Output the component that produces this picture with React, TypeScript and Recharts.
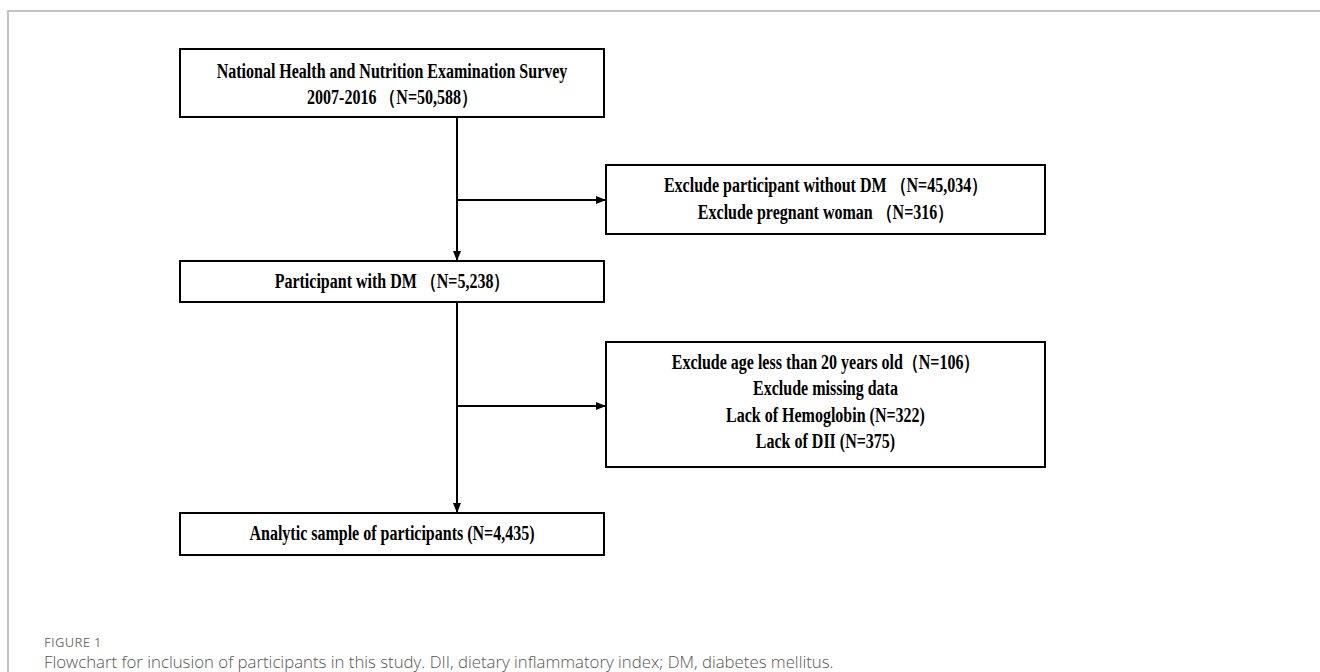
import React from "react";
import { ComposedChart, XAxis, YAxis, ReferenceArea, ReferenceLine, Scatter } from "recharts";

// ---- content ----
const boxTexts: string[][] = [
  ["National Health and Nutrition Examination Survey", "2007-2016 （N=50,588）"],
  ["Exclude participant without DM （N=45,034）", "Exclude pregnant woman （N=316）"],
  ["Participant with DM （N=5,238）"],
  [
    "Exclude age less than 20 years old（N=106）",
    "Exclude missing data",
    "Lack of Hemoglobin (N=322)",
    "Lack of DII (N=375)",
  ],
  ["Analytic sample of participants (N=4,435)"],
];
const figureLabel = "FIGURE 1";
const captionText =
  "Flowchart for inclusion of participants in this study. DII, dietary inflammatory index; DM, diabetes mellitus.";

// ---- layout (pixel coordinates in the axis space) ----
const W = 1320;
const H = 672;
const boxX1 = [180, 606, 180, 606, 180];
const boxX2 = [604, 1045, 604, 1045, 604];
const boxY1 = [49, 165, 261, 342, 513];
const boxY2 = [117, 234, 302, 467, 555];
const textCenterY = [84.5, 199, 281, 402, 533];
const lineGap = 26.5;
const mainX = 457;
const branchY = [200, 406];

type Seg = { x1: number; y1: number; x2: number; y2: number };
const connectors: Seg[] = [
  { x1: mainX, y1: boxY2[0], x2: mainX, y2: boxY1[2] },
  { x1: mainX, y1: boxY2[2], x2: mainX, y2: boxY1[4] },
  { x1: mainX, y1: branchY[0], x2: boxX1[1], y2: branchY[0] },
  { x1: mainX, y1: branchY[1], x2: boxX1[3], y2: branchY[1] },
];

const textPoints = boxTexts.flatMap((lines, i) => {
  const cx = (boxX1[i] + boxX2[i]) / 2;
  return lines.map((t, j) => ({
    x: cx,
    y: textCenterY[i] + (j - (lines.length - 1) / 2) * lineGap,
    text: t,
  }));
});

const arrowPoints = connectors.map((s) => ({
  x: s.x2,
  y: s.y2,
  dir: s.x1 === s.x2 ? "down" : "right",
}));

const TextShape = (props: any) => {
  const { cx, cy, payload } = props;
  return (
    <g transform={`translate(${cx},${cy}) scale(0.8,1)`}>
      <text
        x={0}
        y={0}
        textAnchor="middle"
        dominantBaseline="central"
        fontFamily="'Liberation Serif', 'Times New Roman', serif"
        fontWeight="bold"
        fontSize={20}
        fill="#000"
      >
        {payload.text}
      </text>
    </g>
  );
};

const ArrowShape = (props: any) => {
  const { cx, cy, payload } = props;
  const L = 10;
  const w = 4;
  const d =
    payload.dir === "down"
      ? `M${cx},${cy} L${cx - w},${cy - L} L${cx + w},${cy - L} Z`
      : `M${cx},${cy} L${cx - L},${cy - w} L${cx - L},${cy + w} Z`;
  return <path d={d} fill="#000" stroke="none" />;
};

export default function App() {
  return (
    <div style={{ position: "relative", width: W, height: H, background: "#fff", overflow: "hidden" }}>
      <style>{`body{margin:0;background:#fff}`}</style>
      <div
        style={{
          position: "absolute",
          left: 7,
          top: 10,
          width: W,
          height: H,
          borderLeft: "2px solid #c4c4c4",
          borderTop: "2px solid #c4c4c4",
          boxSizing: "border-box",
        }}
      />
      <div style={{ position: "absolute", left: 0, top: 0 }}>
        <ComposedChart width={W} height={H} margin={{ top: 0, right: 0, bottom: 0, left: 0 }}>
          <XAxis dataKey="x" type="number" domain={[0, W]} hide allowDataOverflow />
          <YAxis dataKey="y" type="number" domain={[0, H]} reversed hide allowDataOverflow />
          {boxTexts.map((_, i) => (
            <ReferenceArea
              key={`box${i}`}
              x1={boxX1[i]}
              x2={boxX2[i]}
              y1={boxY1[i]}
              y2={boxY2[i]}
              stroke="#000"
              strokeWidth={2}
              fill="#fff"
              fillOpacity={0}
              strokeOpacity={1}
              ifOverflow="visible"
            />
          ))}
          {connectors.map((s, i) => (
            <ReferenceLine
              key={`c${i}`}
              segment={[
                { x: s.x1, y: s.y1 },
                { x: s.x2, y: s.y2 },
              ]}
              stroke="#000"
              strokeWidth={2}
              ifOverflow="visible"
            />
          ))}
          <Scatter data={arrowPoints} shape={ArrowShape} isAnimationActive={false} />
          <Scatter data={textPoints} shape={TextShape} isAnimationActive={false} />
        </ComposedChart>
      </div>
      <div
        style={{
          position: "absolute",
          left: 44,
          top: 633,
          fontFamily: "'Open Sans', sans-serif",
          fontSize: 13,
          lineHeight: "18px",
          color: "#7a7a7a",
          letterSpacing: 0.3,
        }}
      >
        {figureLabel}
      </div>
      <div
        style={{
          position: "absolute",
          left: 44,
          top: 653,
          fontFamily: "'Open Sans', sans-serif",
          fontWeight: 300,
          fontSize: 16.8,
          lineHeight: "18px",
          color: "#555",
          whiteSpace: "nowrap",
        }}
      >
        {captionText}
      </div>
    </div>
  );
}
